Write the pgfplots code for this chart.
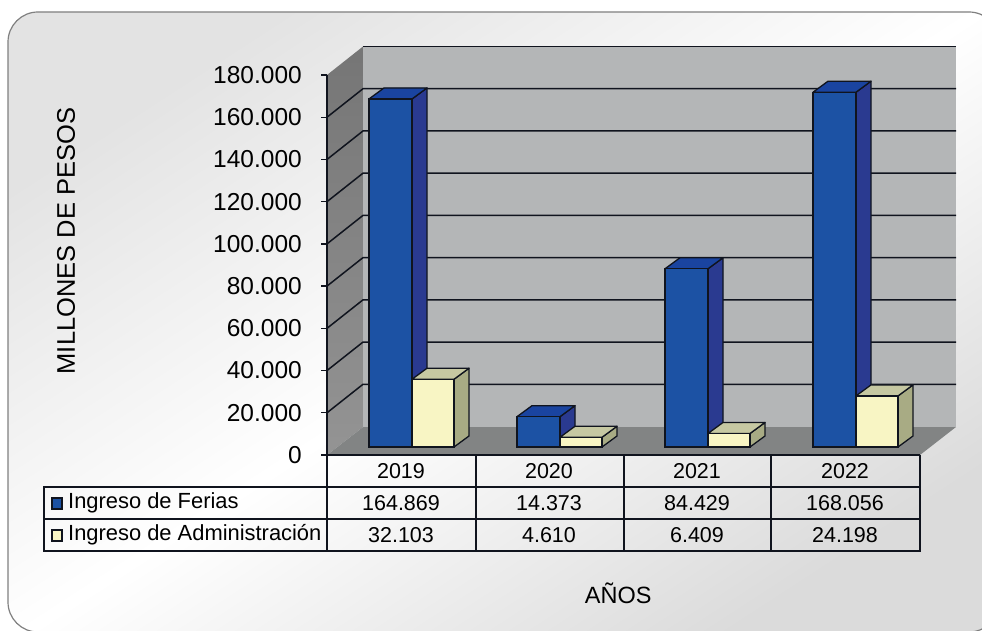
\documentclass[border=0pt]{standalone}
\usepackage{pgfplots}
\pgfplotsset{compat=1.18}
\usepackage{fontspec}
\setmainfont{Liberation Sans}
\definecolor{bluefront}{HTML}{1C52A4}
\definecolor{bluetop}{HTML}{1A44A0}
\definecolor{blueside}{HTML}{2A3A90}
\definecolor{yelfront}{HTML}{F8F5C4}
\definecolor{yeltop}{HTML}{C6C8A2}
\definecolor{yelside}{HTML}{A8AB84}
\definecolor{edge}{HTML}{10141E}
\definecolor{wall}{HTML}{B4B6B7}
\definecolor{floorc}{HTML}{828484}
\definecolor{panelline}{HTML}{808080}
\newcommand{\fs}[1]{\fontsize{#1}{#1}\selectfont}
\begin{document}
\begin{tikzpicture}
\useasboundingbox (0,0) rectangle (982pt,-631pt);
% ---- panel, walls, floor (pixel coordinates of the reference)
\begin{scope}[x=1pt,y=-1pt]
  \begin{scope}
    \clip (0,0) rectangle (982,631);
    \path[fill=white] (0,0) rectangle (982,631);
    \begin{scope}
      \clip[rounded corners=30pt] (8,12) rectangle (999,632);
      \shade[top color=black!11,bottom color=black!14,middle color=white,shading angle=33] (8,12) rectangle (999,632);
    \end{scope}
    \draw[panelline,line width=1.2pt,rounded corners=30pt] (8,12) rectangle (999,632);
  \end{scope}
  \shade[top color=black!54,bottom color=black!42] (327,75) -- (363,46.5) -- (363,427) -- (327,455) -- cycle;
  \fill[wall] (363,46.5) rectangle (956,427);
  \fill[floorc] (327,455) -- (363,427) -- (956,427) -- (920,455) -- cycle;
\end{scope}
\begin{axis}[
  at={(327pt,-455pt)},anchor=origin,
  scale only axis,width=593pt,height=380pt,
  xmin=327,xmax=920,ymin=0,ymax=180000,
  clip=false,
  axis lines=left,
  axis line style={-,edge,line width=1.6pt},
  xtick={401,549,697,845},
  xticklabels={2019,2020,2021,2022},
  ytick={0,20000,40000,60000,80000,100000,120000,140000,160000,180000},
  yticklabels={0,20.000,40.000,60.000,80.000,100.000,120.000,140.000,160.000,180.000},
  scaled y ticks=false,
  tick align=outside,
  y tick style={edge,line width=1.3pt},
  x tick style={draw=none},
  major tick length=6pt,
  yticklabel style={font=\fs{24.5},inner sep=0pt,xshift=-19pt},
  xticklabel style={font=\fs{21.5},inner sep=0pt,anchor=center,yshift=-10pt},
  ylabel={MILLONES DE PESOS},
  xlabel={AÑOS},
  every axis y label/.style={at={(axis description cs:-0.44,0.563)},rotate=90,anchor=center,font=\fs{25.5}},
  every axis x label/.style={at={(axis description cs:0.491,-0.363)},anchor=center,font=\fs{23.5}},
]
% gridlines: side wall, then back wall
\pgfplotsset{grid/.style={draw=edge,line width=1.5pt,mark=none,forget plot}}
\addplot[grid] coordinates {(327,20000)(363,33500)(956,33500)};
\addplot[grid] coordinates {(327,40000)(363,53500)(956,53500)};
\addplot[grid] coordinates {(327,60000)(363,73500)(956,73500)};
\addplot[grid] coordinates {(327,80000)(363,93500)(956,93500)};
\addplot[grid] coordinates {(327,100000)(363,113500)(956,113500)};
\addplot[grid] coordinates {(327,120000)(363,133500)(956,133500)};
\addplot[grid] coordinates {(327,140000)(363,153500)(956,153500)};
\addplot[grid] coordinates {(327,160000)(363,173500)(956,173500)};
\addplot[grid] coordinates {(363,193500)(956,193500)};
% Ingreso de Ferias: sides and tops
\pgfplotsset{fac/.style={draw=edge,line width=1.3pt,line join=round,mark=none,forget plot}}
\addplot[fac,fill=blueside] coordinates {(412,168659)(427,173870)(427,9001)(412,3790)} -- cycle;
\addplot[fac,fill=bluetop] coordinates {(369,168659)(412,168659)(427,173870)(384,173870)} -- cycle;
\addplot[fac,fill=blueside] coordinates {(560,18163)(575,23374)(575,9001)(560,3790)} -- cycle;
\addplot[fac,fill=bluetop] coordinates {(517,18163)(560,18163)(575,23374)(532,23374)} -- cycle;
\addplot[fac,fill=blueside] coordinates {(708,88219)(723,93430)(723,9001)(708,3790)} -- cycle;
\addplot[fac,fill=bluetop] coordinates {(665,88219)(708,88219)(723,93430)(680,93430)} -- cycle;
\addplot[fac,fill=blueside] coordinates {(856,171846)(871,177057)(871,9001)(856,3790)} -- cycle;
\addplot[fac,fill=bluetop] coordinates {(813,171846)(856,171846)(871,177057)(828,177057)} -- cycle;
% Ingreso de Ferias: front faces
\addplot[ybar,bar shift=0pt,bar width=43pt,yshift=8pt,draw=edge,line width=1.3pt,fill=bluefront]
  coordinates {(390.5,164869)(538.5,14373)(686.5,84429)(834.5,168056)};
% Ingreso de Administracion: sides and tops
\addplot[fac,fill=yelside] coordinates {(454,35893)(469,41104)(469,9001)(454,3790)} -- cycle;
\addplot[fac,fill=yeltop] coordinates {(412,35893)(454,35893)(469,41104)(427,41104)} -- cycle;
\addplot[fac,fill=yelside] coordinates {(602,8400)(617,13611)(617,9001)(602,3790)} -- cycle;
\addplot[fac,fill=yeltop] coordinates {(560,8400)(602,8400)(617,13611)(575,13611)} -- cycle;
\addplot[fac,fill=yelside] coordinates {(750,10199)(765,15410)(765,9001)(750,3790)} -- cycle;
\addplot[fac,fill=yeltop] coordinates {(708,10199)(750,10199)(765,15410)(723,15410)} -- cycle;
\addplot[fac,fill=yelside] coordinates {(898,27988)(913,33199)(913,9001)(898,3790)} -- cycle;
\addplot[fac,fill=yeltop] coordinates {(856,27988)(898,27988)(913,33199)(871,33199)} -- cycle;
% Ingreso de Administracion: front faces
\addplot[ybar,bar shift=0pt,bar width=42pt,yshift=8pt,draw=edge,line width=1.3pt,fill=yelfront]
  coordinates {(433,32103)(581,4610)(729,6409)(877,24198)};
\end{axis}
% ---- data table under the chart
\begin{scope}[x=1pt,y=-1pt]
  \draw[edge,line width=1.4pt] (44,487) rectangle (920,551);
  \draw[edge,line width=1.4pt] (44,519) -- (920,519);
  \foreach \x in {327,476,624,771,920} \draw[edge,line width=1.4pt] (\x,455) -- (\x,551);
  \draw[edge,line width=2pt,fill=bluefront] (52,498) rectangle (62,509);
  \draw[edge,line width=2pt,fill=yelfront] (52,530) rectangle (62,541);
  \node[anchor=west,inner sep=0pt,font=\fs{21.9}] at (68,503) {Ingreso de Ferias};
  \node[anchor=west,inner sep=0pt,font=\fs{21.9}] at (68,535) {Ingreso de Administración};
  \foreach \x/\a/\b in {401/164.869/32.103,549/14.373/4.610,697/84.429/6.409,845/168.056/24.198}{
    \node[inner sep=0pt,font=\fs{21.5}] at (\x,503) {\a};
    \node[inner sep=0pt,font=\fs{21.5}] at (\x,535) {\b};
  }
\end{scope}
\end{tikzpicture}
\end{document}
